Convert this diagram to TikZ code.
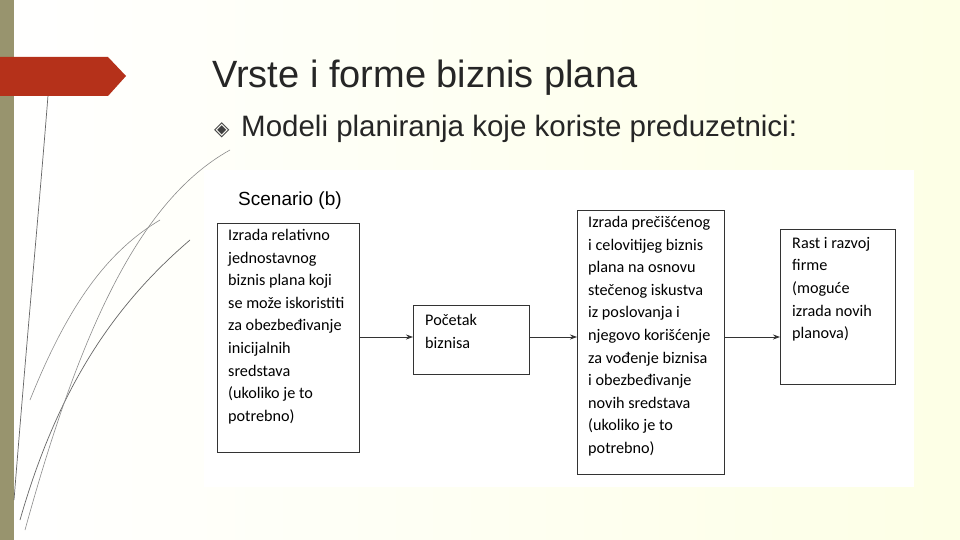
\documentclass[tikz,border=0pt]{standalone}
\usepackage{fontspec}
\setmainfont{Liberation Sans}
\newfontfamily\carlitofam{Carlito}
\newfontfamily\dejavufam{DejaVu Sans}
\usetikzlibrary{arrows.meta}
\definecolor{redarr}{HTML}{B5311A}
\begin{document}
\begin{tikzpicture}[x=1pt,y=-1pt,
  boxn/.style={draw=black!80,line width=0.8pt,fill=white},
  txt/.style={anchor=north west,align=left,font=\carlitofam\fontsize{16.2}{22.6}\selectfont,inner sep=0pt},
  arr/.style={-{Stealth[length=7pt,width=5pt]},line width=0.8pt,draw=black!80}]
\useasboundingbox (0,0) rectangle (960,540);
\shade[left color=white,right color=green!8!yellow!10!white] (0,0) rectangle (960,540);
\fill[black!55!olive!60] (0,0) rectangle (14,540);
\draw[black!60,line width=0.7pt] (14,500) .. controls (30,300) and (40,200) .. (50,70);
\draw[black!60,line width=0.7pt] (20,520) .. controls (60,380) and (120,300) .. (190,240);
\draw[black!45,line width=0.6pt] (25,530) .. controls (80,330) and (140,200) .. (230,150);
\draw[black!45,line width=0.6pt] (30,400) .. controls (70,300) and (110,250) .. (160,220);
\fill[redarr] (0,57) -- (108,57) -- (126,76) -- (108,96) -- (0,96) -- cycle;
\node[anchor=base west,font=\fontsize{38}{44}\selectfont,text=black!85,inner sep=0pt] (title) at (212,88) {Vrste i forme biznis plana};
\node[anchor=base west,font=\dejavufam\fontsize{20}{24}\selectfont,text=black!75,inner sep=0pt] (bul) at (214,136) {◈};
\node[anchor=base west,font=\fontsize{29.5}{34}\selectfont,text=black!85,inner sep=0pt] (sub) at (241,137) {Modeli planiranja koje koriste preduzetnici:};
\fill[white] (204,170) rectangle (914,487);
\node[anchor=base west,font=\fontsize{19}{22}\selectfont,inner sep=0pt] (sc) at (238,205) {Scenario (b)};
\node[boxn,minimum width=142,minimum height=229,anchor=north west] (b1) at (217,223) {};
\node[txt] at (228,229) {Izrada relativno\\jednostavnog\\biznis plana koji\\se može iskoristiti\\za obezbeđivanje\\inicijalnih\\sredstava\\(ukoliko je to\\potrebno)};
\node[boxn,minimum width=116,minimum height=69,anchor=north west] (b2) at (413,305) {};
\node[txt] at (425,314) {Početak\\biznisa};
\node[boxn,minimum width=147,minimum height=264,anchor=north west] (b3) at (577,210) {};
\node[txt] at (588,216) {Izrada prečišćenog\\i celovitijeg biznis\\plana na osnovu\\stečenog iskustva\\iz poslovanja i\\njegovo korišćenje\\za vođenje biznisa\\i obezbeđivanje\\novih sredstava\\(ukoliko je to\\potrebno)};
\node[boxn,minimum width=115,minimum height=155,anchor=north west] (b4) at (780,229) {};
\node[txt] at (792,237) {Rast i razvoj\\firme\\(moguće\\izrada novih\\planova)};
\draw[arr] (b1.east |- 0,337) -- (b2.west |- 0,337);
\draw[arr] (b2.east |- 0,337) -- (b3.west |- 0,337);
\draw[arr] (b3.east |- 0,337) -- (b4.west |- 0,337);
\end{tikzpicture}
\end{document}
